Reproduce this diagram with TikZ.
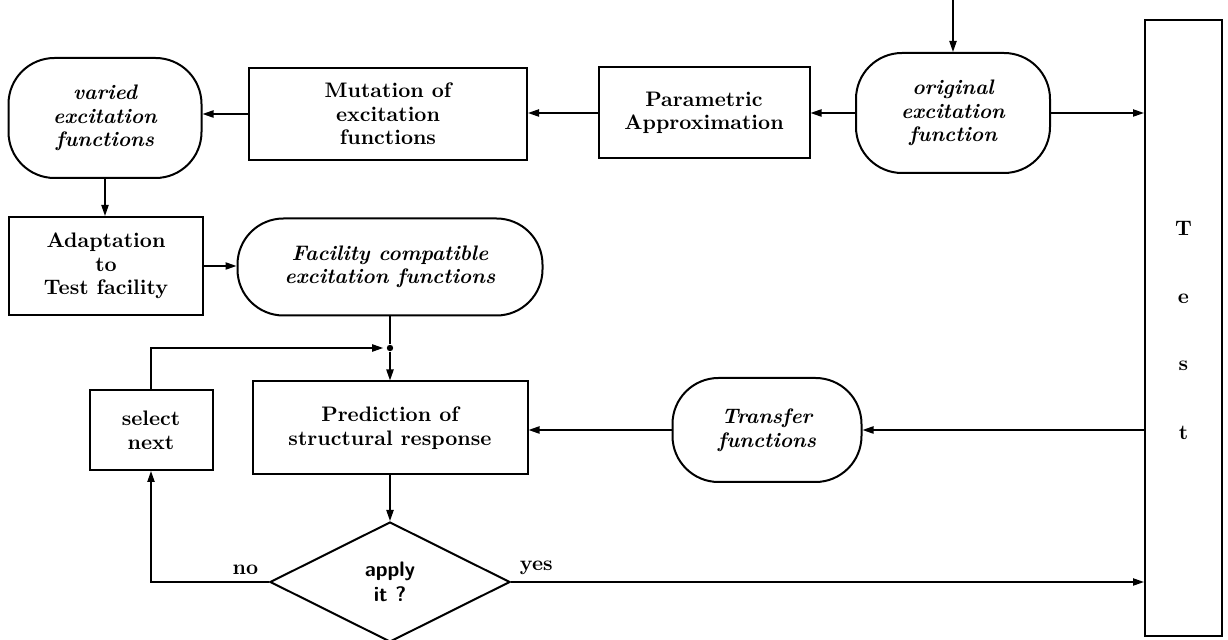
\documentclass[tikz,border=0pt]{standalone}
\usetikzlibrary{arrows.meta,shapes.geometric}
\begin{document}
\begin{tikzpicture}[x=0.5pt,y=-0.5pt,
  every node/.style={font=\fontsize{10.5}{11.8}\selectfont\bfseries, align=center},
  box/.style={draw, line width=1pt, inner sep=0pt},
  rbox/.style={draw, line width=1pt, inner sep=0pt, rounded corners=23pt, font=\fontsize{10.5}{11.8}\selectfont\bfseries\itshape},
  arr/.style={line width=0.8pt, -{Triangle[length=5.5pt,width=3.6pt]}},
  ln/.style={line width=0.8pt}
]
\useasboundingbox (0,0) rectangle (1228,640);

% top row
\node[rbox, minimum width=96.5pt, minimum height=60pt] (varied) at (105,118) {varied\\excitation\\functions};
\node[box, minimum width=139pt, minimum height=46pt] (mut) at (388,114) {Mutation of\\excitation\\functions};
\node[box, minimum width=105.5pt, minimum height=45.5pt] (param) at (704,113) {Parametric\\Approximation};
\node[rbox, minimum width=97pt, minimum height=60pt] (orig) at (953,113) {original\\excitation\\function};
\node[box, minimum width=38.5pt, minimum height=308pt] (test) at (1183.5,328) {};
\node at (1183.5,228) {T};
\node at (1183.5,299) {e};
\node at (1183.5,366) {s};
\node at (1183.5,433) {t};
\coordinate (topin) at (953,0);

% second row
\node[box, minimum width=97pt, minimum height=49pt] (adapt) at (106,266) {Adaptation\\to\\Test facility};
\node[rbox, minimum width=152.5pt, minimum height=48.5pt] (fac) at (390,267) {Facility compatible\\excitation functions};

% third row
\node[circle, fill, inner sep=0pt, minimum size=3.2pt] (dot) at (390,348) {};
\node[box, minimum width=61.5pt, minimum height=40pt] (sel) at (151,430) {select\\next};
\node[box, minimum width=137.5pt, minimum height=46.5pt] (pred) at (390,428) {Prediction of\\structural response};
\node[rbox, minimum width=94.5pt, minimum height=52pt] (tr) at (767,430) {Transfer\\functions};

% decision
\node[draw, line width=1pt, diamond, shape aspect=2, inner sep=0pt, minimum width=120pt, minimum height=60pt, font=\fontsize{10.5}{12.5}\selectfont\sffamily\bfseries] (dia) at (390,582) {apply\\it ?};

% connectors
\draw[arr] (topin) -- (orig.north);
\draw[arr] (orig.west) -- (param.east);
\draw[arr] (param.west) -- (param.west -| mut.east);
\draw[arr] (mut.west) -- (mut.west -| varied.east);
\draw[arr] (orig.east) -- (orig.east -| test.west);
\draw[arr] (varied.south) -- (varied.south |- adapt.north);
\draw[arr] (adapt.east) -- (adapt.east -| fac.west);
\draw[ln] (fac.south) -- (dot);
\draw[arr] (dot) -- (pred.north);
\draw[arr, shorten >=1.6pt] (sel.north) |- (dot);
\draw[arr] (test.west |- tr.east) -- (tr.east);
\draw[arr] (tr.west) -- (tr.west -| pred.east);
\draw[arr] (pred.south) -- (dia.north);
\draw[arr] (dia.west) -| node[pos=0.1, above=0pt] {no} (sel.south);
\draw[arr] (dia.east) -- node[pos=0.04, above=0pt] {yes} (dia.east -| test.west);
\end{tikzpicture}
\end{document}
